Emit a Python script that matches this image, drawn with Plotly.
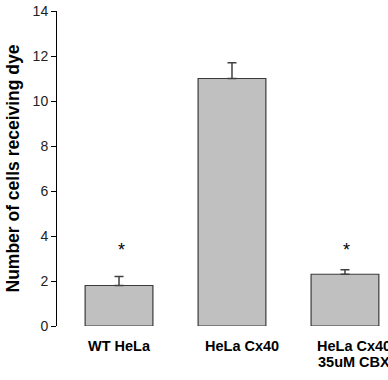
import plotly.graph_objects as go

categories = ["WT HeLa", "HeLa Cx40", "HeLa Cx40<br>35uM CBX"]
means = [1.8, 11.0, 2.3]
errors = [0.4, 0.7, 0.2]
stars = ["*", "", "*"]
star_y = [3.38, None, 3.38]
y_ticks = [0, 2, 4, 6, 8, 10, 12, 14]
label_shift = [0.5, 10, 9]

FONT = "Liberation Sans, Arial"

fig = go.Figure()
fig.add_trace(go.Bar(
    x=[0, 1, 2], y=means, width=0.6,
    marker=dict(color="#C0C0C0", line=dict(color="#3a3a3a", width=1.2)),
    error_y=dict(type="data", array=errors, symmetric=False, arrayminus=[0, 0, 0],
                 color="#404040", thickness=1.5, width=4.5),
    showlegend=False,
))
for i, (s, yy) in enumerate(zip(stars, star_y)):
    if s:
        fig.add_annotation(x=i, y=yy, text=s, showarrow=False, xshift=2,
                           font=dict(family=FONT, size=18, color="black"),
                           yanchor="middle", xanchor="center")
for i, (c, sh) in enumerate(zip(categories, label_shift)):
    for k, line in enumerate(c.split("<br>")):
        fig.add_annotation(x=i, y=0, xref="x", yref="paper", text=f"<b>{line}</b>",
                           showarrow=False, xshift=sh, yshift=-10 - 16 * k,
                           xanchor="center", yanchor="top",
                           font=dict(family=FONT, size=14.5, color="black"))

fig.update_layout(
    width=388, height=380,
    margin=dict(l=57, r=0, t=11, b=54, autoexpand=False),
    paper_bgcolor="white", plot_bgcolor="white",
    font=dict(family=FONT, color="black"),
    xaxis=dict(range=[-0.549, 2.381], showticklabels=False,
               showline=False, showgrid=False, zeroline=False, ticks=""),
    yaxis=dict(range=[0, 14], tickmode="array", tickvals=y_ticks,
               showline=True, linecolor="black", linewidth=1,
               ticks="outside", ticklen=5, tickcolor="black",
               showgrid=False, zeroline=False,
               tickfont=dict(size=14, color="#222"), automargin=False,
               title=dict(text="<b>Number of cells receiving dye</b>",
                          font=dict(size=17.5, color="black"), standoff=8)),
)
fig.write_html("out.html")
